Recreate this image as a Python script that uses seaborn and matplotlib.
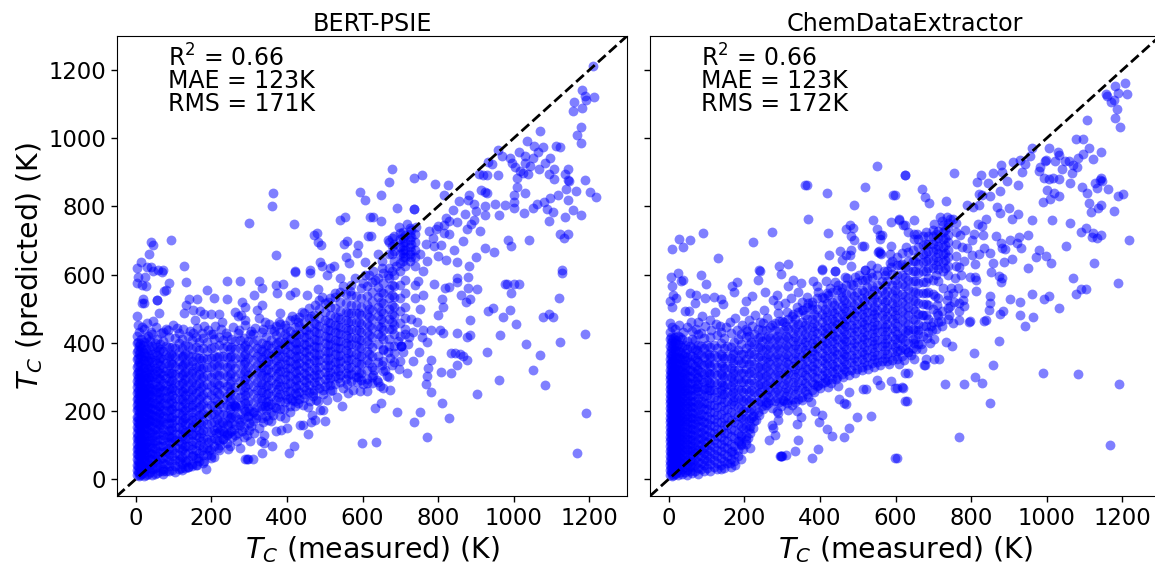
import matplotlib
matplotlib.use("Agg")
import matplotlib.pyplot as plt
import pandas as pd
import seaborn as sns

titles = ["BERT-PSIE", "ChemDataExtractor"]
stats = [["R$^2$ = 0.66", "MAE = 123K", "RMS = 171K"], ["R$^2$ = 0.66", "MAE = 123K", "RMS = 172K"]]
ticks = [0, 200, 400, 600, 800, 1000, 1200]

# points read one by one, (measured, predicted)
left_top_left = [(364,839),(359,801),(300,752),(419,748),(39,696),(44,687),(92,700),(35,661),(13,636),(3,619),(30,622),(39,622),(59,612),(72,612),(127,624),(370,656),(479,722),(471,715),(482,694),(489,687),(551,690),(560,698),(589,687),(586,662),(539,760),(553,769),(594,841),(607,819),(620,770),(615,714),(556,650),(606,638),(564,633),(487,638),(492,624),(524,626),(514,619),(461,612),(421,609),
(3,575),(15,570),(6,594),(24,592),(28,565),(46,609),(68,606),(88,575),(81,555),(74,553),(132,577),(189,556),(240,582),(275,582),(207,531),(240,529),(55,524),(55,524),(15,516),(22,516),(18,528),(140,529),(162,528),(132,511),(127,487),(61,487),(4,479),(6,453),(46,465),(79,440),(108,444),(152,497),(171,492),(181,485),(200,484),(221,484),(156,467),(262,490),(277,482),(282,519),(289,506),(290,467),(271,477),(227,462),(180,450),(209,450),(152,428),(313,540),(335,560),(326,580),(370,570),(390,573),(373,547),(408,541),(421,550),(421,606),(461,604),(454,541),(483,557),(505,599),(540,590),(320,497),(333,511),(326,472),(342,462),(381,487),(306,433),(271,428)]
left_top_right = [(1210,1212),(1182,1142),(1188,1125),(1192,1113),(1212,1120),(1160,1105),(1156,1080),(1181,1088),(1179,1032),(1168,1009),(1178,987),(1069,1022),(1035,991),(959,966),(970,947),(991,941),(995,927),(1015,960),(1030,948),(1050,941),(1031,927),(1004,915),(1017,905),(1024,899),(1039,895),(1043,919),(1084,927),(1097,941),(1067,909),(1053,976),(1064,961),(1078,975),(1113,976),(1123,973),(1106,909),(1093,896),(1107,881),(1145,911),(1137,895),(1143,878),(1147,873),(1190,876),(1139,850),(1165,846),(1202,842),(1218,828),(1118,834),(1095,825),(1145,819),(1158,789),(1179,775),(1136,769),(1094,756),(1104,784),(1088,792),(1080,813),(1061,807),(1052,795),(1027,780),(1002,795),(1001,813),(978,804),(962,775),(950,808),(925,774),(925,800),(900,785),(871,779),(839,789),(820,767),(850,754),(876,733),(888,749),(895,760),(910,729),(1031,838),(1001,834),(1009,858),(1008,883),(925,841),(929,839),(913,847),(881,834),(880,819),(855,816),(894,807),(958,892),(929,891),(907,895),(920,892),(943,924),(933,930),(677,909),(670,872),(735,883),(757,891),(791,865),(825,863),(815,832),(649,834),(690,796),(735,793),(735,793),(627,770),(649,756),(717,748),(622,712),(801,741),(829,756),(816,746),(795,734),(776,728),(830,719),(816,721),(786,706),(790,684),(808,686),(866,699),(843,673),(925,677),(949,665),(901,651),(986,700),(994,684),(1041,700),(1123,720),(1143,719),(1133,706),(801,655),(820,642),(850,637),(883,625),(1128,612)]
left_bottom_right = [(1129,604),(1120,532),(978,572),(982,572),(1000,571),(1013,571),(993,545),(903,557),(880,560),(880,594),(850,590),(851,577),(819,560),(828,563),(790,573),(860,539),(873,519),(885,528),(810,529),(814,504),(801,482),(944,503),(931,493),(990,497),(973,475),(1006,454),(1078,476),(1093,483),(1104,476),(885,467),(964,423),(885,422),(876,418),(850,427),(814,427),(805,438),(782,438),(761,438),(757,418),(770,403),(1033,395),(1123,403),(1190,424),(930,373),(1070,363),(835,370),(845,369),(857,366),(865,362),(876,349),(850,333),(750,374),(780,349),(733,347),(700,345),(773,325),(771,303),(718,312),(808,315),(834,310),(1051,320),(960,289),(767,279),(780,254),(903,250),(1083,275),(810,222),(752,196),(692,196),(649,223),(632,209),(830,179),(735,168),(1191,195),(770,124),(635,109),(1167,75),(673,262),(655,267),(646,272),(624,281),(638,291),(664,301),(660,321),(629,321),(651,335),(677,335),(673,355),(682,369),(655,379),(669,389),(702,389),(702,389),(702,389),(722,418)]
left_bottom_mid = [(185,30),(162,42),(138,34),(120,32),(71,22),(200,71),(249,96),(275,91),(302,110),(290,60),(293,60),(296,60),(311,60),(335,76),(340,105),(331,110),(339,130),(360,96),(404,75),(419,98),(313,135),(371,142),(383,143),(399,151),(350,172),(395,179),(434,159),(443,159),(455,131),(463,166),(501,171),(598,106),(474,174),(545,214),(465,189),(487,203),(496,203),(244,157),(275,159),(253,182),(271,135),(247,135),(234,135),(300,164),(300,198),(297,184),(362,189),(350,213),(342,213),(262,213),(264,210),(260,216),(222,145),(222,101),(214,115),(421,213),(443,218),(461,228),(478,233),(562,252),(584,286),(611,281),(611,257),(593,257),(514,257),(496,262),(470,252)]
left_rim = [(17,447),(29,458),(41,431),(52,446),(66,428),(84,436),(97,452),(113,429),(126,441),(143,433),(161,444),(176,427),(192,438),(205,424),(224,441),(238,429),(256,446),(273,436),(288,452),(301,425),(316,444),(337,439),(352,456),(365,433),(379,462),(398,444),(412,478),(428,461),(441,489),(463,478),(475,510),(492,534),(509,518),(526,545),(548,566),(566,552),(580,590),(600,575),(618,600),(632,585),(651,618),(668,600),(688,625),
(118,58),(133,49),(149,38),(165,62),(181,54),(194,86),(206,64),(218,92),(231,118),(244,88),(255,122),(268,110),(281,142),(293,128),(306,156),(318,180),(327,150),(345,186),(358,170),(368,212),(382,184),(393,206),(408,196),(414,232),(428,222),(445,238),(456,212),(468,244),(481,228),(494,248),(507,232),(519,262),(533,240),(548,268),(560,280),(575,262),(588,300),(601,278),(150,70),(175,84),(190,108),(212,136),(228,166),(240,128),(259,148),(272,176),(286,124),(299,144),(312,196),(336,168),
(612,292),(628,306),(641,286),(655,318),(669,300),(684,342),(696,322),(707,372),(720,396),(733,432),(744,462),(641,344),(668,372),(695,404),(712,426),(728,470),(752,498),(760,540),(748,580),(760,610),(770,640),(752,660),(768,690),(742,740),(696,740),(668,700),(640,660),(652,640),(628,610),(606,598)]

left_core_x = [2,8,14,22,31,43,56,71,88,104,121,139,158,177,198,219,241,263,286,309,333,357,382,407,433,459,486,513,541,569,597,626,655,684,712,725,738]
left_core_y = [
[12,27,41,58,72,88,103,121,136,152,169,183,201,218,236,251,270,288,307,329,351,374,398,421],
[8,20,35,49,66,81,96,113,128,146,161,177,194,210,228,245,262,281,299,318,343,366,389,432],
[14,30,44,60,75,92,108,124,141,157,173,190,206,223,241,258,276,295,314,337,360,385,410],
[10,24,38,55,69,85,101,117,133,149,166,181,198,215,232,249,267,285,304,326,348,371,402,440],
[16,33,47,63,79,95,111,127,144,160,176,193,211,228,246,264,282,300,322,345,368,393,419],
[12,28,42,59,74,90,106,122,139,155,172,188,205,222,240,259,278,298,319,342,366,391,425],
[18,35,50,66,82,99,115,131,148,165,182,199,217,236,255,274,295,316,339,363,388,412],
[16,30,46,62,79,96,113,130,148,166,184,203,222,241,261,282,304,327,351,377,405,431],
[22,38,55,72,90,108,126,144,163,182,202,222,243,265,287,310,335,360,388,418],
[20,37,56,75,94,113,133,153,173,194,215,237,260,283,307,332,358,385,415],
[26,44,64,84,104,125,146,167,189,211,234,257,281,306,331,357,384,412],
[35,55,76,97,119,141,164,187,210,234,259,284,310,336,363,391,421],
[40,62,84,107,130,153,177,201,226,251,277,303,330,358,386,418],
[48,71,95,119,144,169,194,220,246,272,299,326,354,383,413],
[62,88,113,139,165,191,218,245,272,300,328,356,385,424],
[85,112,138,165,192,220,248,276,304,333,362,392,416],
[105,132,160,188,216,244,272,301,330,359,389,420],
[130,158,186,214,242,270,298,326,354,382,404],
[152,180,206,232,258,284,310,336,362,388,414],
[170,196,222,248,273,298,323,348,373,398,426],
[180,206,232,256,280,304,328,352,376,400,431],
[196,220,244,268,291,314,337,360,383,407,440],
[205,228,250,272,294,316,338,360,382,405,430,455],
[215,237,259,281,303,325,347,368,389,411,434,466],
[235,256,277,298,319,340,361,382,403,425,448,476],
[255,276,297,318,339,360,381,402,424,447,471,501],
[268,288,308,328,348,368,388,408,428,449,472,498,525],
[275,295,315,335,355,375,395,415,436,457,480,505,532],
[285,305,325,345,365,385,405,425,446,468,492,518,548],
[288,308,330,352,374,396,418,440,463,487,512,540,570],
[290,312,336,360,384,408,432,456,480,505,532,560],
[300,330,360,388,416,442,468,495,522,550,578],
[345,380,410,438,462,488,515,545,575,605],
[390,425,452,478,505,535,565,600,640,670,690,712],
[440,472,505,545,585,625,650,672,694,716],
[640,660,680,700,720,736],
[530,570,625,650,672,695,718],
]
left_fill_x = [5,11,18,27,37,50,64,80,96,113,130,149,168,188,208,230,252,275,298,321,345,370,395,420,446,472,500,527,555,583,611,640,670,698]
left_fill_y = [
[20,37,53,74,91,110,126,148,165,181,204,222,239,257,279,296,315,334,356,379,403],
[11,29,47,68,84,103,119,140,158,174,197,213,234,253,272,291,310,331,354,376,396],
[17,35,56,72,94,110,131,150,168,186,207,225,245,262,284,303,325,350,372,394],
[13,31,51,70,88,107,125,146,163,183,200,219,238,256,275,297,315,338,361,382,413],
[21,40,58,76,97,115,134,153,170,190,209,227,248,268,289,309,330,355,378,404],
[15,33,55,73,92,110,128,147,168,185,206,224,245,265,285,307,327,350,372,400],
[22,41,60,80,98,118,137,157,174,195,214,234,254,273,293,312,333,355,380,397],
[24,43,64,83,101,122,140,160,179,198,218,237,258,277,296,318,341,364,390],
[27,47,66,86,105,123,144,164,183,205,224,246,268,290,312,336,361,387],
[30,52,71,92,112,131,152,172,193,214,235,255,277,299,322,346,372,398],
[33,54,77,96,118,139,160,180,202,222,245,268,292,315,341,367,394],
[44,68,88,110,131,152,174,197,218,242,264,286,310,334,360,382,408],
[53,75,100,122,143,166,188,212,235,257,282,307,332,356,378,401],
[70,92,118,140,162,185,208,232,256,280,304,329,352,376,402],
[96,120,144,168,190,214,238,262,286,312,336,361,387,411],
[118,142,165,190,212,236,260,286,310,336,360,384,408],
[140,164,190,214,238,262,288,312,336,362,386,410],
[168,190,216,240,262,288,312,336,358,384,408],
[182,208,230,256,280,306,330,354,380,404],
[188,212,238,262,286,312,334,360,384,408],
[202,226,250,272,298,320,344,368,394,418],
[208,232,256,278,302,326,350,372,396,422,448],
[225,246,270,292,314,336,358,380,402,426,452],
[228,252,272,294,316,338,360,380,402,424,446,470],
[248,270,290,312,332,354,376,396,418,440,462,488],
[262,284,306,326,348,370,390,412,434,458,482],
[272,292,314,334,356,376,398,420,442,466,490,516],
[280,302,322,344,366,386,408,430,452,476,502,534],
[292,312,334,356,378,400,422,444,466,490,516,544],
[298,320,344,368,392,414,438,462,486,512,538],
[320,348,376,404,430,458,484,510,538,566],
[360,396,424,450,478,506,534,562,590],
[410,440,468,498,530,558,590,620,660,696],
[420,458,492,530,570,610,635,660,682,704,722],
]
left_band_x = [34,60,92,125,148,172,215,250,290,330,350,375,400,425,450,478,508,535,562,590,618,648,678,708,728]
left_band_y = [
[170,195,220,245,270,298,325,350],
[160,190,215,240,268,295,322,348,376],
[120,150,178,205,232,258,285,312,340,366],
[90,118,145,172,200,228,255,282,308,335,362],
[100,128,155,183,210,236,262,290,318,345],
[110,136,162,190,216,244,270,296,322,350],
[150,176,202,228,255,280,306,332,358],
[180,205,230,255,280,306,332,358,382],
[198,222,246,270,294,318,342,368,392],
[214,238,262,286,310,334,358,382],
[228,252,276,300,322,346,370,394],
[240,264,286,310,332,356,378,402],
[236,258,280,304,326,350,372,396,418],
[246,268,290,312,334,356,378,400,422],
[262,284,306,328,350,372,394,416,438],
[276,298,320,342,364,386,408,430,454],
[284,306,328,350,372,394,416,438,462],
[296,318,340,362,384,406,428,452,476],
[304,326,348,370,392,414,438,462,486],
[310,336,362,386,410,436,462,488],
[340,368,396,422,448,474,500],
[420,446,470,494,518,548],
[440,462,484,510,540,570,610,660,684,706],
[640,650,662,672,684,695,706,724],
[650,668,690,710,730],
]

right_top_left = [(551,919),(361,863),(365,863),(419,838),(520,856),(593,832),(491,803),(625,891),(369,762),(274,726),(91,722),(27,704),(56,702),(38,680),(8,675),(222,696),(420,722),(129,649),(292,626),(315,630),(239,612),(406,617),(539,759),(469,734),(479,746),(488,736),(482,712),(491,702),(551,734),(558,717),(565,715),(560,704),(589,753),(608,762),(620,744),(510,685),(516,684),(589,685),(452,670),(469,658),(482,673),(479,658),(459,643),(425,656),(554,665),(556,668),(558,663),(561,661),(586,661),(616,663),(483,624),(536,627),(585,633),(589,622),(611,627),(519,614),(439,609),
(5,594),(24,604),(86,599),(98,572),(38,583),(179,578),(166,565),(173,548),(236,585),(241,609),(298,601),(254,549),(55,547),(73,541),(68,516),(95,531),(120,534),(139,528),(219,536),(205,521),(252,497),(229,482),(199,492),(212,467),(241,462),(121,489),(142,513),(88,479),(2,458),(7,506),(42,492),(53,492),(2,521),(11,541),(7,565),(20,531),(33,580),(285,541),(276,526),(289,511),(329,585),(351,575),(316,565),(382,580),(417,580),(439,609),(404,614),(391,565),(422,541),(466,594),(492,594),(519,614),(572,599),(448,570),(342,550),(369,516),(324,531),(355,497),(307,516),(174,472),(135,448),(108,467),(77,462),(60,433)]
right_top_right = [(1208,1161),(1182,1152),(1213,1130),(1189,1134),(1157,1130),(1161,1125),(1169,1105),(1177,1111),(1185,1085),(1180,1058),(1193,1032),(1106,1054),(1078,997),(1096,997),(1005,971),(1030,961),(1112,971),(1143,961),(1097,954),(1083,941),(1122,938),(1032,951),(1021,932),(999,937),(996,932),(983,917),(979,905),(992,883),(1005,881),(1018,883),(1032,881),(1041,909),(1049,932),(1058,932),(1071,922),(1080,917),(1067,897),(1063,869),(1094,858),(1107,838),(1145,883),(1141,878),(1129,868),(1133,853),(1162,851),(1146,873),(1189,829),(1203,836),(1112,810),(1144,803),(1136,795),(1117,784),(1179,787),(1033,830),(1020,840),(1001,848),(1008,822),(989,814),(1013,759),(1063,752),(1092,726),(1104,736),(1122,723),(1144,716),(1120,710),(1133,707),(1050,684),(1217,700),(1124,634),(961,971),(957,948),(930,935),(912,929),(943,925),(935,902),(880,920),(883,902),(859,898),(825,891),(815,871),(844,868),(895,873),(923,863),(877,844),(820,837),(830,832),(851,829),(789,804),(806,798),(820,803),(869,797),(877,780),(901,794),(925,777),(909,762),(962,761),(839,763),(830,741),(818,748),(784,731),(807,719),(803,702),(831,717),(867,714),(950,716),(927,709),(904,702),(880,692),(921,692),(932,678),(889,674),(882,677),(833,677),(850,663),(789,677),(820,661),(802,658),(886,638),(909,645),(979,673),(973,652),(998,654),(1012,633),(950,619),(857,633),(809,631),(756,899),(625,891),(671,852),(678,828),(689,811),(734,815),(599,832),(608,759),(649,760),(624,744),(633,724),(650,720),(718,768),(736,770),(751,762)]
right_bottom_right = [(1071,590),(1190,576),(1078,542),(1092,558),(1104,558),(1005,538),(993,527),(960,544),(1032,501),(930,520),(903,528),(930,482),(965,475),(943,450),(885,493),(876,485),(847,495),(851,516),(851,536),(874,404),(813,551),(798,592),(811,594),(814,585),(853,606),(873,596),(882,590),(880,578),(780,546),(778,524),(780,508),(767,516),(751,547),(738,541),(745,509),(738,502),(769,492),(742,480),(720,465),(752,459),(769,467),(795,462),(798,464),(833,465),(839,467),(701,412),(734,402),(749,391),(807,369),(859,333),(650,399),(634,374),(612,379),(681,353),(702,353),(716,353),(676,335),(678,333),(633,312),(989,310),(1082,308),(1191,278),(810,298),(829,283),(730,279),(780,279),(621,267),(603,267),(630,228),(850,222),(769,123),(1167,99),(603,61),(694,448),(670,482),(709,487),(709,511),(705,536),(659,438),(634,438),(612,413)]
right_bottom_mid = [(598,61),(378,61),(395,89),(333,82),(311,71),(294,66),(296,66),(298,66),(300,66),(265,115),(280,130),(272,159),(276,149),(342,115),(340,162),(289,172),(349,182),(340,198),(316,203),(289,193),(302,233),(285,198),(397,168),(404,187),(386,198),(375,226),(419,147),(433,127),(464,122),(478,151),(499,182),(535,184),(450,235),(464,223),(470,220),(476,254),(514,264),(523,264),(550,291),(559,277),(589,288),(598,267),(616,269),(625,228),(420,270),(448,274),(139,30),(161,47),(167,81),(214,91),(192,100),(205,115),(192,125),(214,154),(223,184),(263,223),(325,218),(395,277),(625,311)]
right_rim = [(15,440),(28,452),(37,430),(49,446),(58,462),(71,440),(84,428),(96,448),(112,436),(124,454),(137,430),(151,445),(163,462),(180,438),(193,452),(207,434),(221,448),(236,440),(248,458),(261,472),(274,452),(288,486),(300,464),(312,490),(327,478),(340,504),(352,520),(366,534),(380,512),(396,548),(410,530),(427,560),(440,578),(455,550),(472,590),(488,570),(503,600),(520,585),(535,605),(552,620),(570,610),(590,640),(605,650),(628,680),(650,705),
(176,42),(184,66),(190,58),(197,88),(186,112),(209,120),(214,136),(222,150),(230,172),(238,188),(205,102),(250,205),(256,218),(274,208),(298,214),(312,222),(335,226),(352,232),(368,240),(384,254),(399,268),(414,284),(428,282),(442,294),(460,300),(478,306),(492,312),(510,320),(528,322),(544,330),(560,334),(582,336),
(608,338),(622,350),(640,364),(655,382),(668,396),(684,414),(697,436),(712,462),(724,492),(735,524),(748,560),(758,590),(768,622),(650,352),(670,380),(690,398),(708,440),(722,450),(740,470),(755,520),(765,560),(772,600),(782,640),(775,680),(770,715),(658,720),(680,725),(702,748),(724,758),(745,762)]

right_core_x = [3,9,16,25,36,48,62,77,93,110,128,146,164,182,203,224,246,268,291,316,341,366,392,418,444,470,497,524,551,578,605,632,659,686,712,738,760]
right_core_y = [
[12,26,40,54,68,82,96,110,124,138,152,166,180,194,208,222,236,250,264,278,292,306,320,336,352,370,390,410,430],
[8,21,35,49,63,77,91,105,119,133,147,161,175,189,203,217,231,245,259,273,287,301,316,331,347,365,384,404,447],
[15,30,44,58,72,86,100,114,128,142,156,170,184,198,212,226,240,254,268,282,296,311,326,342,359,378,398,418],
[11,25,39,53,67,81,95,109,123,137,151,165,179,193,207,221,235,249,263,277,292,307,323,340,358,377,397,421],
[14,29,43,57,71,85,99,113,127,141,155,169,183,197,211,225,239,253,268,283,298,314,331,349,368,388,412],
[12,27,42,57,72,87,102,117,132,147,162,177,192,207,222,237,252,268,284,301,319,338,358,380,404],
[18,34,50,66,82,98,114,130,146,162,178,194,210,226,243,260,278,297,317,338,360,384,410],
[16,33,50,67,84,101,118,135,152,169,186,203,221,239,258,278,299,321,344,368,394,425],
[22,40,58,76,94,112,130,148,166,185,204,223,243,264,286,309,333,358,384,415],
[24,43,62,81,100,119,138,157,177,197,217,238,260,283,307,332,358,386,418],
[28,47,66,86,106,126,146,167,188,210,232,255,279,304,330,357,385,423],
[32,52,72,93,114,135,157,179,202,225,249,274,300,327,355,384,415],
[36,58,80,102,125,148,172,196,221,246,272,299,327,356,386,428],
[85,110,135,160,186,212,238,265,292,320,349,379,412],
[125,152,180,208,236,265,294,323,353,384,416,440],
[170,198,226,254,282,310,338,366,395,425],
[215,242,269,296,323,350,378,406,436],
[232,258,284,310,336,362,388,414,446],
[226,252,278,304,330,356,382,408,434,464],
[232,258,284,310,336,362,388,414,440,470],
[236,262,286,310,334,358,382,406,430,456,490],
[250,274,298,322,346,370,394,418,442,468,505],
[272,296,318,340,362,384,406,428,450,474,500,530],
[290,312,334,356,378,400,422,444,466,490,516,545],
[300,322,344,366,388,410,432,454,476,500,526,556],
[316,338,360,382,404,426,448,470,492,516,542,570],
[324,346,368,390,412,434,456,478,500,524,550,578],
[335,357,379,401,423,445,467,489,512,536,562,590],
[342,364,386,408,430,452,474,497,520,544,570,600],
[346,368,390,412,434,456,479,502,526,552,580,610],
[352,376,400,424,448,472,496,520,545,572,600,628],
[372,400,428,454,480,506,532,558,585,612,640,665],
[395,425,455,485,515,545,575,605,630,655,680,705],
[430,470,510,550,590,620,645,668,690,712],
[480,530,580,615,640,662,684,706,728],
[600,625,650,672,694,716,738,752],
[625,655,690,725,750],
]
right_fill_x = [6,12,20,30,42,55,69,85,101,119,137,155,173,192,213,235,257,280,304,328,353,379,405,431,457,483,510,537,564,591,618,645,672,699,725]
right_fill_y = [
[19,33,47,61,75,89,103,117,131,145,159,173,187,201,215,229,243,257,271,285,299,313,328,344,361,379,398,418],
[13,28,42,56,70,84,98,112,126,140,154,168,182,196,210,224,238,252,266,280,294,309,324,340,356,375,393,413],
[18,32,46,60,74,88,102,116,130,144,158,172,186,200,214,228,242,256,270,285,300,316,333,351,370,390,409],
[20,34,48,62,76,90,104,118,132,146,160,174,188,202,216,230,244,258,272,288,303,320,337,355,374,394,416],
[19,35,50,64,79,94,109,124,139,154,169,184,199,214,229,244,260,276,292,310,328,348,369,392],
[22,38,54,70,86,102,118,134,150,166,182,198,214,230,247,264,282,301,321,342,365,389],
[24,41,58,75,92,109,126,143,160,177,194,212,230,248,268,288,310,332,356,381,407],
[30,48,66,84,102,120,138,156,174,192,211,230,250,270,292,315,338,363,391],
[33,52,70,89,108,127,146,165,184,204,224,245,266,290,314,340,366,393],
[36,55,74,94,114,134,155,176,197,218,240,262,286,311,338,364,392],
[42,62,82,102,123,145,168,190,213,236,260,286,312,340,368,398],
[46,68,90,112,135,158,182,206,230,254,280,306,332,360,390],
[52,74,96,120,144,168,192,216,242,268,294,320,348,376,402],
[104,130,156,182,208,234,260,286,312,340,368,396,424],
[148,174,200,228,256,282,310,338,366,394,420],
[196,222,250,276,302,330,358,386,414],
[226,250,276,302,328,356,382,410,438],
[228,254,280,306,332,358,384,410,438,458],
[230,256,280,306,332,358,384,410,436,462],
[236,260,284,308,332,356,380,404,428,454,484],
[242,266,290,314,338,362,386,410,436,462,496],
[262,286,310,332,354,376,398,422,446,470,498,520],
[282,304,326,348,370,392,414,436,460,484,510,534],
[294,316,338,360,382,404,426,448,470,494,520,548],
[308,330,352,374,396,418,440,462,484,508,534,560],
[320,342,364,386,408,430,452,474,496,520,546,572],
[330,352,374,396,418,440,462,484,508,532,556,584],
[340,362,384,406,428,450,472,494,518,542,566,594],
[346,368,390,412,434,456,480,504,528,554,582],
[350,372,396,420,444,468,492,516,542,570,602],
[362,388,414,440,466,492,518,544,572,600,632],
[384,412,440,470,498,526,552,582,610,640,672],
[420,450,482,514,546,578,610,636,660,686,712],
[460,500,542,584,620,644,668,690,712,732],
[560,610,636,660,682,704,726,745],
]
right_band_x = [40,75,105,140,170,195,218,240,262,286,310,335,360,385,412,438,464,490,517,544,571,598,625,652,680,706,730]
right_band_y = [
[258,284,310,336,362],
[270,296,322,350,378],
[260,286,312,340,368],
[250,276,304,332,360],
[230,256,284,312,340,368],
[150,175,200,228,256,284,312,340,368],
[180,206,234,262,290,318,346,374,402],
[228,254,280,306,332,360,388,416],
[240,264,290,316,342,368,394,420],
[238,264,290,316,342,368,394,420],
[244,268,292,316,342,368,394,420,448],
[250,274,298,322,346,370,394,418,442,470],
[258,282,306,330,354,378,402,426,452,480],
[278,300,322,344,366,388,410,434,458,484],
[296,318,340,362,384,406,428,450,474,500],
[310,332,354,376,398,420,442,464,488,512],
[324,346,368,390,412,434,456,478,502,526],
[334,356,378,400,422,444,466,488,512,536],
[344,366,388,410,432,454,476,498,522,548],
[352,374,396,418,440,462,484,506,530,556],
[356,378,400,422,446,470,494,518,542,568],
[362,386,410,434,458,482,506,530,556,584],
[380,406,432,458,484,510,538,566,594,622],
[410,438,466,494,522,550,580,610,640],
[450,482,514,546,578,610,640,664,690],
[600,628,652,676,698,720],
[620,642,664,686,708,730],
]


def make_table(points, columns):
    rows = list(points)
    for xs, ys in columns:
        for x, col in zip(xs, ys):
            rows += [(x, y) for y in col]
    return pd.DataFrame(rows, columns=["measured", "predicted"])


left = make_table(left_top_left + left_top_right + left_bottom_right + left_bottom_mid + left_rim,
                  [(left_core_x, left_core_y), (left_fill_x, left_fill_y), (left_band_x, left_band_y)])
right = make_table(right_top_left + right_top_right + right_bottom_right + right_bottom_mid + right_rim,
                   [(right_core_x, right_core_y), (right_fill_x, right_fill_y), (right_band_x, right_band_y)])

sns.set_style("ticks", {"text.color": "black", "axes.labelcolor": "black", "xtick.color": "black",
                        "ytick.color": "black", "axes.edgecolor": "black"})
fig = plt.figure(figsize=(11.55, 5.62), dpi=100)
ax1 = fig.add_axes([117 / 1155, 66 / 562, 510 / 1155, 460 / 562])
ax2 = fig.add_axes([650 / 1155, 66 / 562, 510 / 1155, 460 / 562])

for ax, df, title, lines in zip([ax1, ax2], [left, right], titles, stats):
    sns.scatterplot(data=df, x="measured", y="predicted", color="blue", alpha=0.5, s=50, linewidth=0, ax=ax)
    ax.plot([-50, 1300], [-50, 1300], "k--", lw=2)
    ax.set_xlim(-50, 1300)
    ax.set_ylim(-50, 1300)
    ax.set_xticks(ticks)
    ax.set_yticks(ticks)
    ax.tick_params(labelsize=16.4, length=4.2, width=1, pad=3.5)
    ax.set_title(title, fontsize=17.2, pad=3)
    ax.set_xlabel("$T_C$ (measured) (K)", fontsize=20.4, labelpad=3)
    for y, line in zip([1235, 1168, 1100], lines):
        ax.text(85, y, line, fontsize=17, va="center", ha="left")

ax1.set_ylabel("$T_C$ (predicted) (K)", fontsize=20.4, labelpad=2)
ax2.set_ylabel("")
ax2.tick_params(labelleft=False)

fig.savefig("out.png", dpi=100)
